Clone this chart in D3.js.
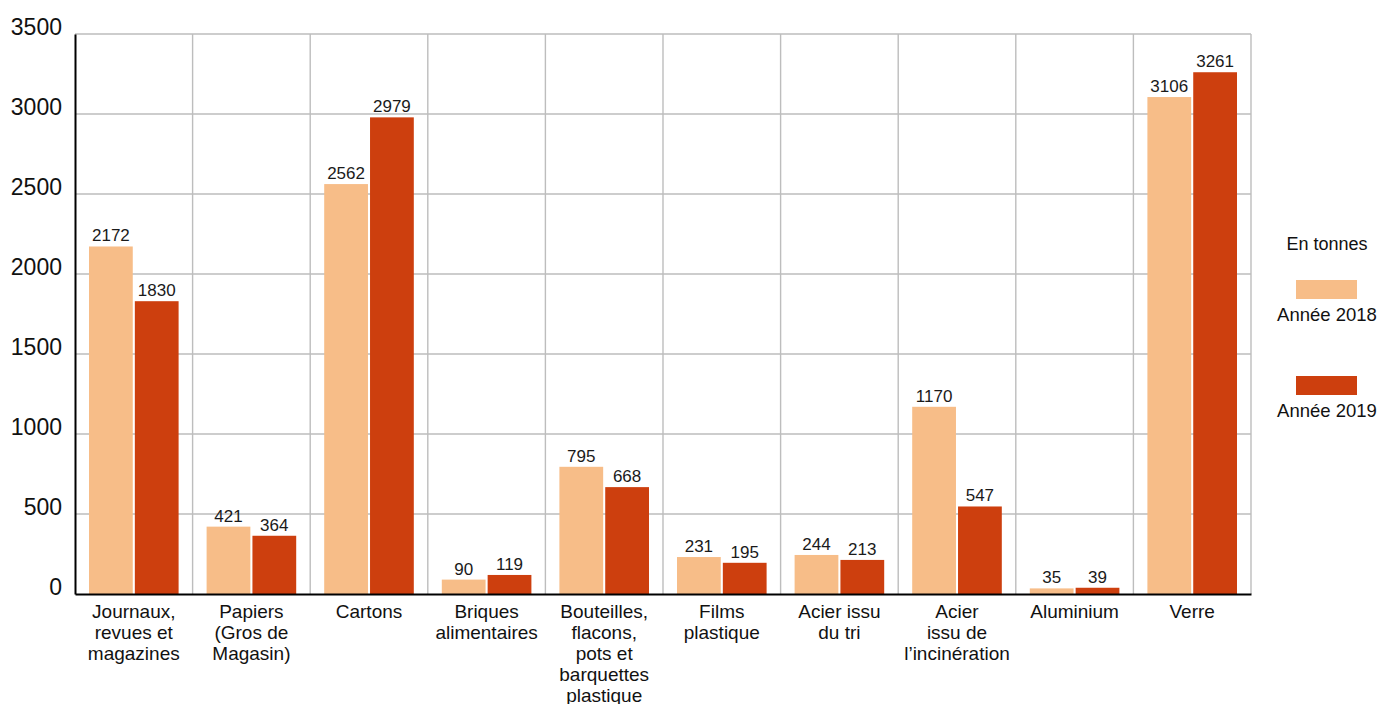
<!DOCTYPE html>
<html>
<head>
<meta charset="utf-8">
<script src="https://cdn.jsdelivr.net/npm/d3@7"></script>
<style>
  body { margin: 0; background: #fff; }
  svg { display: block; }
</style>
</head>
<body>
<script>
// Données (en tonnes)
const categories = [
  ["Journaux,", "revues et", "magazines"],
  ["Papiers", "(Gros de", "Magasin)"],
  ["Cartons"],
  ["Briques", "alimentaires"],
  ["Bouteilles,", "flacons,", "pots et", "barquettes", "plastique"],
  ["Films", "plastique"],
  ["Acier issu", "du tri"],
  ["Acier", "issu de", "l\u2019incinération"],
  ["Aluminium"],
  ["Verre"]
];
const years = ["Année 2018", "Année 2019"];
const values2018 = [2172, 421, 2562, 90, 795, 231, 244, 1170, 35, 3106];
const values2019 = [1830, 364, 2979, 119, 668, 195, 213, 547, 39, 3261];
const yTicks = [0, 500, 1000, 1500, 2000, 2500, 3000, 3500];
const unitLabel = "En tonnes";

const colors = ["#F7BD88", "#CD3F0E"];

const W = 1379, H = 704;
const margin = { top: 34, right: 128, bottom: 110, left: 75 };
const width = W - margin.left - margin.right,
      height = H - margin.top - margin.bottom;

const data = categories.map((c, i) => ({
  idx: i, label: c, vals: [values2018[i], values2019[i]]
}));

const svg = d3.select("body").append("svg")
  .attr("width", W).attr("height", H);
const g = svg.append("g")
  .attr("transform", "translate(" + margin.left + "," + margin.top + ")");

const x0 = d3.scaleBand()
  .domain(d3.range(categories.length))
  .range([0, width])
  .padding(0);

const x1 = d3.scaleBand()
  .domain(d3.range(years.length))
  .range([14, x0.bandwidth() - 14])
  .paddingInner(0.045);

const y = d3.scaleLinear()
  .domain([0, 3500])
  .range([height, 0]);

// grille horizontale
g.append("g")
  .selectAll("line")
  .data(yTicks.slice(1))
  .join("line")
  .attr("x1", 0).attr("x2", width)
  .attr("y1", d => y(d)).attr("y2", d => y(d))
  .attr("stroke", "#bdbdbd").attr("stroke-width", 1.4);

// grille verticale
g.append("g")
  .selectAll("line")
  .data(d3.range(1, categories.length + 1))
  .join("line")
  .attr("x1", d => x0.step() * d).attr("x2", d => x0.step() * d)
  .attr("y1", 0).attr("y2", height)
  .attr("stroke", "#bdbdbd").attr("stroke-width", 1.4);

// barres
const groups = g.selectAll("g.cat")
  .data(data)
  .join("g")
  .attr("class", "cat")
  .attr("transform", d => "translate(" + x0(d.idx) + ",0)");

groups.selectAll("rect")
  .data(d => d.vals.map((v, j) => ({ v, j })))
  .join("rect")
  .attr("x", d => x1(d.j))
  .attr("width", x1.bandwidth())
  .attr("y", d => y(d.v))
  .attr("height", d => height - y(d.v))
  .attr("fill", d => colors[d.j]);

groups.selectAll("text.val")
  .data(d => d.vals.map((v, j) => ({ v, j })))
  .join("text")
  .attr("class", "val")
  .attr("x", d => x1(d.j) + x1.bandwidth() / 2)
  .attr("y", d => y(d.v) - 5)
  .attr("text-anchor", "middle")
  .style("font-family", "'Liberation Sans Narrow', 'Liberation Sans', sans-serif")
  .style("font-size", "17px")
  .attr("fill", "#1a1a1a")
  .text(d => d.v);

// axe Y
const yAxis = g.append("g")
  .call(d3.axisLeft(y).tickValues(yTicks).tickFormat(d3.format("d")).tickSize(0).tickPadding(13));
yAxis.select(".domain").attr("stroke", "#000").attr("stroke-width", 2);
yAxis.selectAll("text")
  .attr("dy", "0em")
  .style("font-family", "'Liberation Sans', sans-serif")
  .style("font-size", "23px")
  .attr("fill", "#111");

// axe X (ligne de base)
const xAxis = g.append("g")
  .attr("transform", "translate(0," + height + ")")
  .call(d3.axisBottom(x0).tickSize(0).tickFormat(""));
xAxis.select(".domain").attr("stroke", "#000").attr("stroke-width", 2.2);

// libellés catégories
groups.append("text")
  .attr("text-anchor", "middle")
  .attr("x", x0.bandwidth() / 2)
  .attr("y", height + 24)
  .style("font-family", "'Liberation Sans Narrow', 'Liberation Sans', sans-serif")
  .style("font-size", "19px")
  .attr("fill", "#111")
  .selectAll("tspan")
  .data(d => d.label)
  .join("tspan")
  .attr("x", x0.bandwidth() / 2)
  .attr("dy", (d, i) => i === 0 ? 0 : 21)
  .text(d => d);

// légende
const lx = 1327;
const legend = svg.append("g");
legend.append("text")
  .attr("x", lx).attr("y", 250)
  .attr("text-anchor", "middle")
  .style("font-family", "'Liberation Sans', sans-serif")
  .style("font-size", "18px")
  .attr("fill", "#111")
  .text(unitLabel);

const items = legend.selectAll("g.item")
  .data(years)
  .join("g")
  .attr("class", "item")
  .attr("transform", (d, i) => "translate(0," + (i * 96) + ")");
items.append("rect")
  .attr("x", lx - 31).attr("y", 280)
  .attr("width", 61).attr("height", 19)
  .attr("fill", (d, i) => colors[i]);
items.append("text")
  .attr("x", lx).attr("y", 321)
  .attr("text-anchor", "middle")
  .style("font-family", "'Liberation Sans', sans-serif")
  .style("font-size", "18.5px")
  .attr("fill", "#111")
  .text(d => d);
</script>
</body>
</html>
